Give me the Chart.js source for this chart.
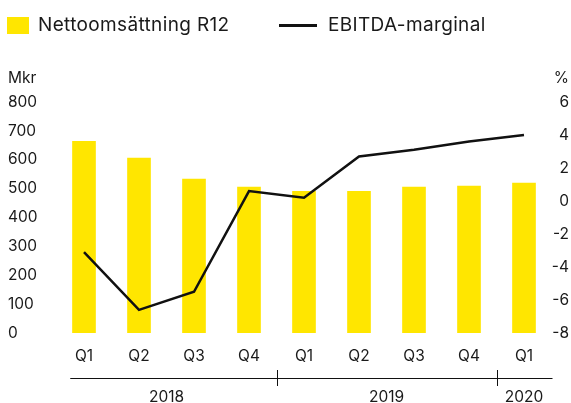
<!DOCTYPE html>
<html lang="sv">
<head>
<meta charset="UTF-8">
<title>Nettoomsättning och EBITDA-marginal</title>
<style>
    html, body { margin: 0; padding: 0; background: #fff; }
    body { width: 571px; height: 403px; position: relative; overflow: hidden; font-family: Inter, "Open Sans", sans-serif; color: #1a1a1a; }
    #wrap { position: absolute; left: 0; top: 0; width: 571px; height: 403px; }
    .legend { position: absolute; top: 13px; font-size: 19px; letter-spacing: 0.35px; line-height: 24px; display: flex; align-items: center; }
    .sw-bar { display: inline-block; width: 22px; height: 17px; background: #FFE600; margin-right: 9px; }
    .sw-line { display: inline-block; width: 38px; height: 3px; background: #111; margin-right: 11px; }
</style>
<script src="https://cdn.jsdelivr.net/npm/chart.js"></script>
</head>
<body>
<div id="wrap"><canvas id="chart" width="571" height="403"></canvas></div>
<div class="legend" style="left:7px"><span class="sw-bar"></span>Nettoomsättning R12</div>
<div class="legend" style="left:279px"><span class="sw-line"></span>EBITDA-marginal</div>

<script>
    // kvartal och år
    const kvartal = ['Q1', 'Q2', 'Q3', 'Q4', 'Q1', 'Q2', 'Q3', 'Q4', 'Q1'];
    const ar = ['2018', '2019', '2020'];
    const arAntal = [4, 4, 1];

    // Nettoomsättning R12, Mkr
    const nettoomsattning = [664, 606, 533, 505, 491, 491, 505, 509, 519];
    // EBITDA-marginal, %
    const ebitdaMarginal = [-3.1, -6.6, -5.5, 0.6, 0.2, 2.7, 3.1, 3.6, 4.0];

    const textFarg = '#1a1a1a';
    const font = { family: 'Inter, "Open Sans", sans-serif', size: 15.5 };

    // rubriker ovanför axlarna + årsrad under x-axeln
    const extraRitning = {
        id: 'extraRitning',
        afterDraw(chart) {
            const ctx = chart.ctx;
            const area = chart.chartArea;
            const x = chart.scales.x;
            ctx.save();
            ctx.fillStyle = textFarg;
            ctx.font = font.size + 'px ' + font.family;
            ctx.textBaseline = 'middle';
            ctx.textAlign = 'left';
            ctx.fillText('Mkr', 8, 78);
            ctx.textAlign = 'right';
            ctx.fillText('%', 569, 78);

            const steg = x.getPixelForValue(1) - x.getPixelForValue(0);
            const linjeY = 378;
            ctx.strokeStyle = '#111';
            ctx.lineWidth = 1;
            ctx.beginPath();
            ctx.moveTo(x.getPixelForValue(0) - steg * 0.25, linjeY + 0.5);
            ctx.lineTo(area.right + 1, linjeY + 0.5);
            ctx.stroke();

            let start = 0;
            ctx.textAlign = 'center';
            ar.forEach((namn, i) => {
                const slut = start + arAntal[i] - 1;
                const mitt = (x.getPixelForValue(start) + x.getPixelForValue(slut)) / 2;
                ctx.fillText(namn, mitt, 397);
                if (i > 0) {
                    const gx = Math.round(x.getPixelForValue(start) - steg / 2) + 0.5;
                    ctx.beginPath();
                    ctx.moveTo(gx, linjeY - 8);
                    ctx.lineTo(gx, linjeY + 8);
                    ctx.stroke();
                }
                start += arAntal[i];
            });
            ctx.restore();
        }
    };

    new Chart(document.getElementById('chart'), {
        data: {
            labels: kvartal,
            datasets: [
                {
                    type: 'line',
                    label: 'EBITDA-marginal',
                    data: ebitdaMarginal,
                    yAxisID: 'y1',
                    borderColor: '#111',
                    borderWidth: 2.5,
                    pointRadius: 0,
                    tension: 0,
                    order: 0
                },
                {
                    type: 'bar',
                    label: 'Nettoomsättning R12',
                    data: nettoomsattning,
                    yAxisID: 'y',
                    backgroundColor: '#FFE600',
                    barThickness: 23,
                    order: 1
                }
            ]
        },
        options: {
            responsive: false,
            animation: false,
            layout: { padding: { top: 102, left: 8, right: 2, bottom: 0 } },
            plugins: { legend: { display: false }, tooltip: { enabled: false } },
            scales: {
                x: {
                    grid: { display: false, drawTicks: false },
                    border: { display: false },
                    ticks: { color: textFarg, font, padding: 14, maxRotation: 0, autoSkip: false },
                    afterFit(s) { s.height = 70; }
                },
                y: {
                    position: 'left',
                    min: 0, max: 800,
                    grid: { display: false, drawTicks: false },
                    border: { display: false },
                    ticks: { stepSize: 100, color: textFarg, font, crossAlign: 'far', padding: 0 },
                    afterFit(s) { s.width = 48.5; }
                },
                y1: {
                    position: 'right',
                    min: -8, max: 6,
                    grid: { display: false, drawTicks: false },
                    border: { display: false },
                    ticks: { stepSize: 2, color: textFarg, font, crossAlign: 'far', padding: 0 },
                    afterFit(s) { s.width = 17.5; }
                }
            }
        },
        plugins: [extraRitning]
    });
</script>
</body>
</html>
